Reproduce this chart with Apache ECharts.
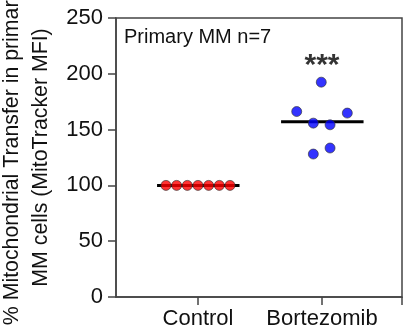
<!DOCTYPE html>
<html>
<head>
<meta charset="utf-8">
<script src="https://cdn.jsdelivr.net/npm/echarts@6/dist/echarts.min.js"></script>
<style>
html, body { margin: 0; padding: 0; background: #fff; }
#chart { width: 404px; height: 334px; }
</style>
</head>
<body>
<div id="chart"></div>
<script>
// groups on the x axis (1 = Control, 2 = Bortezomib)
var categories = ['Control', 'Bortezomib'];
// individual samples (x = group + jitter)
var controlX = [0.742, 0.828, 0.914, 1.0, 1.086, 1.172, 1.258];
var controlY = [100, 100, 100, 100, 100, 100, 100];
var bortezomibX = [1.994, 1.796, 2.204, 1.930, 2.065, 2.065, 1.930];
var bortezomibY = [192.5, 166.2, 164.8, 155.8, 154.3, 133.5, 128.1];
// group mean lines
var groupMeans = [100, 157];
// significance marks
var sigMarks = ['', '***'];
var sigLevel = 207;
var yTicks = [0, 50, 100, 150, 200, 250];

var chartDom = document.getElementById('chart');
var myChart = echarts.init(chartDom, null, { renderer: 'canvas' });
var font = 'Liberation Sans, Arial, sans-serif';
var axisColor = '#444';

function pairs(xs, ys) {
    return xs.map(function (x, i) { return [x, ys[i]]; });
}

var meanSeries = groupMeans.map(function (m, i) {
    var c = i + 1;
    return {
        type: 'line',
        data: [[c - 0.33, m], [c + 0.335, m]],
        symbol: 'none',
        lineStyle: { color: '#000', width: 3 },
        z: 1,
        silent: true
    };
});

var sigData = [];
sigMarks.forEach(function (s, i) {
    if (s) sigData.push({ value: [i + 1, sigLevel], label: { formatter: s } });
});

var option = {
    animation: false,
    title: {
        text: 'Primary MM n=7',
        left: 124,
        top: 27,
        padding: 0,
        textStyle: { fontFamily: font, fontSize: 20, fontWeight: 'normal', color: '#111' }
    },
    grid: {
        left: 116, right: 2, top: 18, bottom: 37,
        outerBoundsMode: 'none',
        containLabel: false,
        show: true, borderColor: axisColor, borderWidth: 1.5
    },
    xAxis: {
        type: 'value',
        min: 0.339,
        max: 2.645,
        splitLine: { show: false },
        axisLine: { show: true, lineStyle: { color: axisColor, width: 1.5 } },
        axisTick: { show: true, customValues: [1, 2, 2.645], length: 8, lineStyle: { color: axisColor, width: 1.5 } },
        axisLabel: {
            customValues: [1, 2],
            formatter: function (v) { return categories[Math.round(v) - 1]; },
            fontFamily: font, fontSize: 22, color: '#111', margin: 11
        }
    },
    yAxis: {
        type: 'value',
        min: yTicks[0],
        max: yTicks[yTicks.length - 1],
        interval: 50,
        splitLine: { show: false },
        axisLine: { show: true, lineStyle: { color: axisColor, width: 1.5 } },
        axisTick: { show: true, length: 8, lineStyle: { color: axisColor, width: 1.5 } },
        axisLabel: { fontFamily: font, fontSize: 22, color: '#111', margin: 13 },
        name: '% Mitochondrial Transfer in primary\nMM cells (MitoTracker MFI)',
        nameLocation: 'middle',
        nameRotate: 90,
        nameGap: 58,
        nameTextStyle: { fontFamily: font, fontSize: 21.3, color: '#111', lineHeight: 29 }
    },
    series: meanSeries.concat([
        {
            name: 'Control',
            type: 'scatter',
            data: pairs(controlX, controlY),
            symbolSize: 10,
            itemStyle: { color: '#ff0000', borderColor: '#333', borderWidth: 0.8 },
            z: 3
        },
        {
            name: 'Bortezomib',
            type: 'scatter',
            data: pairs(bortezomibX, bortezomibY),
            symbolSize: 10,
            itemStyle: { color: '#0000ff', borderColor: '#333', borderWidth: 0.8 },
            z: 3
        },
        {
            type: 'scatter',
            data: sigData,
            symbolSize: 0,
            silent: true,
            label: {
                show: true, position: 'inside',
                fontFamily: font, fontSize: 30, fontWeight: 'bold', color: '#000'
            }
        }
    ])
};

option && myChart.setOption(option);
</script>
</body>
</html>
